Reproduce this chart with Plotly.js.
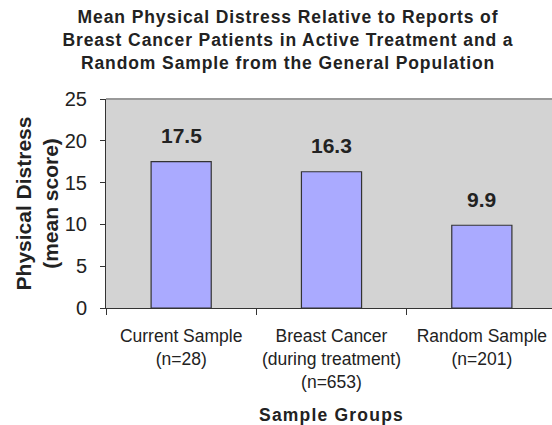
<!DOCTYPE html>
<html>
<head>
<meta charset="utf-8">
<script src="https://cdn.plot.ly/plotly-3.0.1.min.js"></script>
<style>
html, body { margin: 0; padding: 0; overflow: hidden; background: #fff; }
#chart { width: 562px; height: 425px; }
.gtitle { letter-spacing: 0.9px; }
.xtitle { letter-spacing: 1.2px; }
</style>
</head>
<body>
<div id="chart"></div>
<script>
const categories = ["Current Sample<br>(n=28)", "Breast Cancer<br>(during treatment)<br>(n=653)", "Random Sample<br>(n=201)"];
const values = [17.5, 16.3, 9.9];
const yTicks = [0, 5, 10, 15, 20, 25];

const trace = {
  type: 'bar',
  x: categories,
  y: values,
  marker: { color: '#AAAAFF', line: { color: '#333333', width: 1.2 } },
  hoverinfo: 'none'
};

const annotations = categories.map((c, i) => ({
  x: c, y: values[i], xref: 'x', yref: 'y',
  text: '<b>' + values[i].toFixed(1) + '</b>',
  showarrow: false, yanchor: 'middle', yshift: 26,
  font: { family: 'Liberation Sans, Arial, sans-serif', size: 21, color: '#222222' }
}));

const layout = {
  width: 562, height: 425,
  margin: { l: 106, r: 5, t: 99, b: 117 },
  paper_bgcolor: '#ffffff',
  plot_bgcolor: '#D3D3D3',
  font: { family: 'Liberation Sans, Arial, sans-serif', color: '#222222' },
  title: {
    text: '<b>Mean Physical Distress Relative to Reports of<br>Breast Cancer Patients in Active Treatment and a<br>Random Sample from the General Population</b>',
    font: { size: 17.5, color: '#222222' },
    xref: 'container', x: 288 / 562, xanchor: 'center',
    yref: 'container', y: 1 - 23 / 425, yanchor: 'middle'
  },
  bargap: 0.6,
  showlegend: false,
  xaxis: {
    type: 'category',
    tickson: 'boundaries',
    tickangle: 0,
    ticks: 'outside', ticklen: 6, tickcolor: '#333333', tickwidth: 1,
    showline: true, linecolor: '#333333', linewidth: 1,
    showgrid: false, zeroline: false,
    tickfont: { size: 17.5, color: '#222222' },
    ticklabelstandoff: 12,
    title: { text: '<b>Sample Groups</b>', font: { size: 17.5, color: '#222222' }, standoff: 22 }
  },
  yaxis: {
    range: [0, 25],
    tickvals: yTicks,
    ticktext: yTicks.map(String),
    ticks: 'outside', ticklen: 5, tickcolor: '#333333', tickwidth: 1,
    showline: true, linecolor: '#333333', linewidth: 1,
    showgrid: false, zeroline: false,
    tickfont: { size: 20, color: '#222222' },
    ticklabelstandoff: 9,
    title: { text: '<b>Physical Distress<br>(mean score)</b>', font: { size: 21, color: '#222222' }, standoff: 0 }
  },
  shapes: [{
    type: 'line', xref: 'paper', yref: 'paper', x0: 0, x1: 1, y0: 1, y1: 1,
    line: { color: '#999999', width: 2 }
  }],
  annotations: annotations
};

Plotly.newPlot('chart', [trace], layout, { displayModeBar: false, staticPlot: true });
</script>
</body>
</html>
